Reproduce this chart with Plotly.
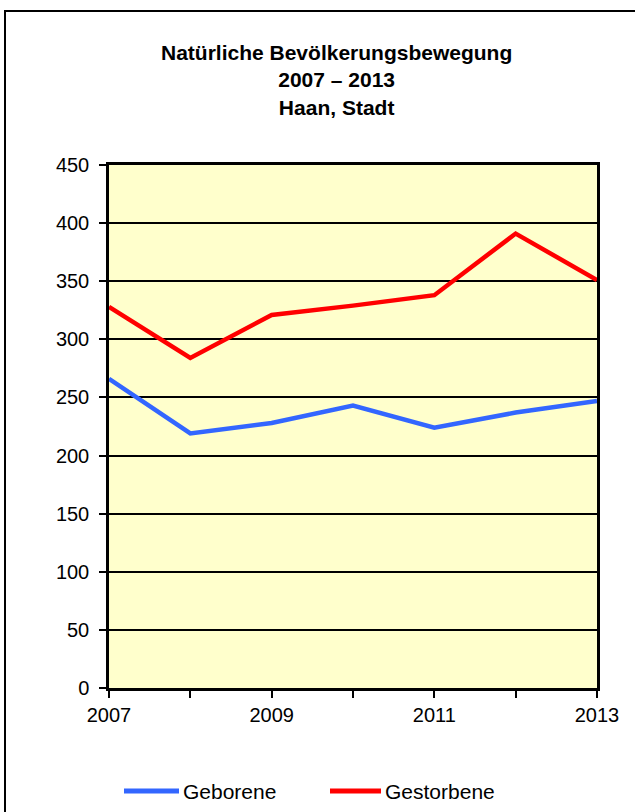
import plotly.graph_objects as go

years = [2007, 2008, 2009, 2010, 2011, 2012, 2013]
geborene = [266, 219, 228, 243, 224, 237, 247]
gestorbene = [328, 284, 321, 329, 338, 391, 351]
x_tick_labels = ["2007", "", "2009", "", "2011", "", "2013"]
y_ticks = [0, 50, 100, 150, 200, 250, 300, 350, 400, 450]
title_lines = ["Natürliche Bevölkerungsbewegung", "2007 – 2013", "Haan, Stadt"]
series_names = ["Geborene", "Gestorbene"]
series_colors = ["#3366ff", "#ff0000"]

font_family = "Liberation Sans, Arial, sans-serif"
W, H = 635, 812
ML, MR, MT, MB = 109, 38, 165, 124
PW, PH = W - ML - MR, H - MT - MB


def px_x(x):
    return (x - ML) / PW


def px_y(y):
    return (H - MB - y) / PH


fig = go.Figure()
for name, vals, col in zip(series_names, [geborene, gestorbene], series_colors):
    fig.add_trace(go.Scatter(x=years, y=vals, mode="lines", name=name,
                             line=dict(color=col, width=4.5), showlegend=False))

fig.update_layout(
    width=W, height=H,
    margin=dict(l=ML, r=MR, t=MT, b=MB),
    paper_bgcolor="white",
    plot_bgcolor="#ffffcc",
    font=dict(family=font_family, size=20, color="black"),
    showlegend=False,
    xaxis=dict(range=[2007, 2013], tickvals=years, ticktext=x_tick_labels,
               ticks="outside", ticklen=7, tickwidth=2, tickcolor="black",
               showgrid=False, showline=True, linecolor="black", linewidth=2.5,
               mirror=True, zeroline=False, fixedrange=True),
    yaxis=dict(range=[0, 450], tickvals=y_ticks, ticks="outside", ticklen=7,
               tickwidth=2, tickcolor="black", showgrid=True, gridcolor="black",
               gridwidth=2, showline=True, linecolor="black", linewidth=2.5,
               mirror=True, zeroline=False, fixedrange=True, ticklabelstandoff=6),
)

# title (three centred bold lines in one text block)
fig.add_annotation(text="<b>" + "<br>".join(title_lines) + "</b>",
                   xref="paper", yref="paper", align="center",
                   x=px_x(336), y=px_y(80), xanchor="center", yanchor="middle",
                   showarrow=False, font=dict(family=font_family, size=21, color="black"))

# custom legend
legend_pos = [(124, 179), (330, 381)]
for (x0, x1), name, col in zip(legend_pos, series_names, series_colors):
    fig.add_shape(type="line", xref="paper", yref="paper",
                  x0=px_x(x0), x1=px_x(x1), y0=px_y(791), y1=px_y(791),
                  line=dict(color=col, width=5))
    fig.add_annotation(text=name, xref="paper", yref="paper",
                       x=px_x(x1 + 2), y=px_y(791), xanchor="left", yanchor="middle",
                       showarrow=False, font=dict(family=font_family, size=21, color="black"))

# outer frame
fig.add_shape(type="rect", xref="paper", yref="paper",
              x0=px_x(5), x1=px_x(700), y0=px_y(900), y1=px_y(11),
              line=dict(color="black", width=2), fillcolor="rgba(0,0,0,0)", layer="below")

fig.write_html("out.html", config={"displayModeBar": False},
               post_script="document.body.style.margin='0px';document.body.style.overflow='hidden';")
